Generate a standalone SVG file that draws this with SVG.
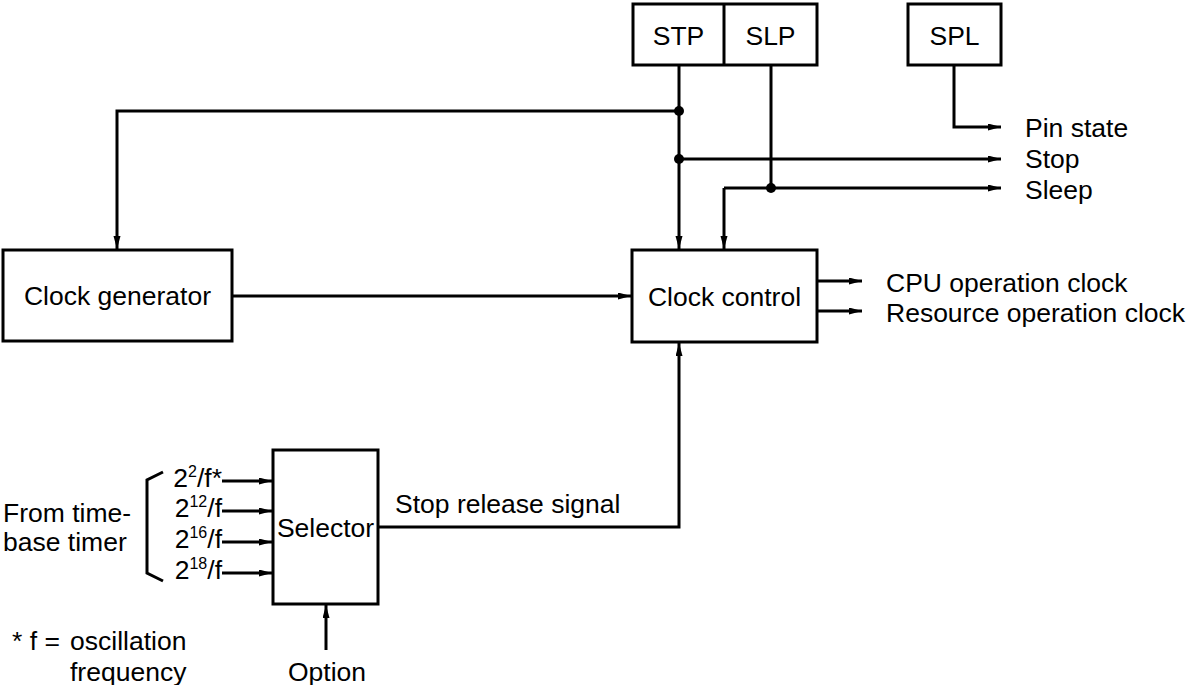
<svg xmlns="http://www.w3.org/2000/svg" width="1188" height="685" viewBox="0 0 1188 685">
<style>
  text { font-family: "Liberation Sans", Arial, sans-serif; font-size: 26.5px; fill: #000; }
  .box { fill: #fff; stroke: #000; stroke-width: 3; }
  .ln { fill: none; stroke: #000; stroke-width: 3; }
  .mid { text-anchor: middle; }
  .end { text-anchor: end; }
</style>
<defs>
  <marker id="arr" markerUnits="userSpaceOnUse" markerWidth="14" markerHeight="8" refX="13" refY="3.5" orient="auto">
    <path d="M0,0 L13,3.5 L0,7 z" fill="#000"/>
  </marker>
</defs>
<rect width="1188" height="685" fill="#fff"/>

<g id="connectors">
  <path class="ln" d="M679,65 V249" marker-end="url(#arr)"/>
  <path class="ln" d="M679,111 H117 V249" marker-end="url(#arr)"/>
  <path class="ln" d="M679,159 H1001" marker-end="url(#arr)"/>
  <path class="ln" d="M771,65 V188"/>
  <path class="ln" d="M724,188 H1001" marker-end="url(#arr)"/>
  <path class="ln" d="M724,188 V249" marker-end="url(#arr)"/>
  <path class="ln" d="M954,65 V127 H1001" marker-end="url(#arr)"/>
  <path class="ln" d="M232,296 H631" marker-end="url(#arr)"/>
  <path class="ln" d="M817,281 H862" marker-end="url(#arr)"/>
  <path class="ln" d="M817,311 H862" marker-end="url(#arr)"/>
  <path class="ln" d="M378,527 H679 V343" marker-end="url(#arr)"/>
  <path class="ln" d="M326,650 V605" marker-end="url(#arr)"/>
  <path class="ln" d="M222,481 H272" marker-end="url(#arr)"/>
  <path class="ln" d="M222,511 H272" marker-end="url(#arr)"/>
  <path class="ln" d="M222,542 H272" marker-end="url(#arr)"/>
  <path class="ln" d="M222,573 H272" marker-end="url(#arr)"/>
  <path class="ln" d="M163,472 L147,480 V573 L163,581"/>
  <circle cx="679" cy="111" r="5" fill="#000"/>
  <circle cx="679" cy="159" r="5" fill="#000"/>
  <circle cx="771" cy="188" r="5" fill="#000"/>
</g>

<g id="stp-slp">
  <rect class="box" x="633" y="4" width="184" height="61"/>
  <line class="ln" x1="724" y1="4" x2="724" y2="65"/>
  <text class="mid" x="678.5" y="45">STP</text>
  <text class="mid" x="770.5" y="45">SLP</text>
</g>

<g id="spl">
  <rect class="box" x="908" y="4" width="93" height="61"/>
  <text class="mid" x="954.5" y="45">SPL</text>
</g>

<g id="clock-generator">
  <rect class="box" x="3" y="250" width="229" height="91"/>
  <text class="mid" x="117.5" y="305">Clock generator</text>
</g>

<g id="clock-control">
  <rect class="box" x="632" y="250" width="185" height="92"/>
  <text class="mid" x="724.5" y="306">Clock control</text>
</g>

<g id="selector">
  <rect class="box" x="273" y="450" width="105" height="154"/>
  <text class="mid" x="325.5" y="537">Selector</text>
</g>

<g id="labels">
  <text x="1025" y="137">Pin state</text>
  <text x="1025" y="168">Stop</text>
  <text x="1025" y="199">Sleep</text>
  <text x="886" y="292">CPU operation clock</text>
  <text x="886" y="322">Resource operation clock</text>
  <text x="395" y="513">Stop release signal</text>
  <text x="3" y="522">From time-</text>
  <text x="3" y="551">base timer</text>
  <text class="end" x="222" y="487">2<tspan font-size="16" dy="-10">2</tspan><tspan dy="10">/f*</tspan></text>
  <text class="end" x="222" y="517">2<tspan font-size="16" dy="-10">12</tspan><tspan dy="10">/f</tspan></text>
  <text class="end" x="222" y="548">2<tspan font-size="16" dy="-10">16</tspan><tspan dy="10">/f</tspan></text>
  <text class="end" x="222" y="579">2<tspan font-size="16" dy="-10">18</tspan><tspan dy="10">/f</tspan></text>
  <text x="12" y="650">* f =<tspan x="70">oscillation</tspan></text>
  <text x="70" y="681">frequency</text>
  <text class="mid" x="327" y="681">Option</text>
</g>
</svg>
